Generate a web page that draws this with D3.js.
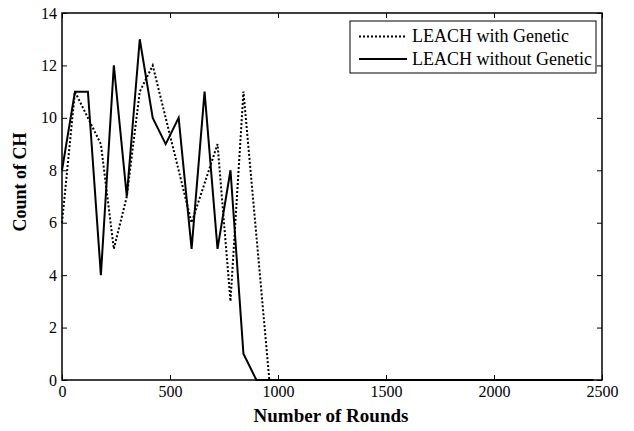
<!DOCTYPE html>
<html>
<head>
<meta charset="utf-8">
<script src="https://cdn.jsdelivr.net/npm/d3@7"></script>
<style>
  html, body { margin: 0; padding: 0; background: #fff; }
  svg { display: block; }
  text { font-family: "Liberation Serif", "Times New Roman", serif; fill: #000; }
</style>
</head>
<body>
<svg id="chart" width="634" height="431"></svg>
<script>
// ---- data ----
const rounds = [0, 60, 120, 180, 240, 300, 360, 420, 480, 540, 600, 660, 720, 780, 840, 900, 960, 2460];
const withGenetic = [6, 11, 10, 9, 5, 7, 11, 12, 10, 8, 6, 7.5, 9, 3, 11, 5.5, 0, 0];
const withoutGenetic = [8, 11, 11, 4, 12, 7, 13, 10, 9, 10, 5, 11, 5, 8, 1, 0, 0, 0];
const xTicks = [0, 500, 1000, 1500, 2000, 2500];
const yTicks = [0, 2, 4, 6, 8, 10, 12, 14];
const seriesNames = ["LEACH with Genetic", "LEACH without Genetic"];
const xTitle = "Number of Rounds";
const yTitle = "Count of CH";

// ---- layout ----
const L = 62, R = 602, T = 13, B = 380;
const svg = d3.select("#chart");
const x = d3.scaleLinear().domain([0, 2500]).range([L, R]);
const y = d3.scaleLinear().domain([0, 14]).range([B, T]);
const fmt = d3.format("d");

function styleAxis(g) {
  g.attr("font-family", null).attr("font-size", null);
  g.select(".domain").remove();
  g.selectAll(".tick line").attr("stroke", "#000").attr("stroke-width", 1);
  g.selectAll(".tick text")
    .style("font-family", '"Liberation Serif", "Times New Roman", serif')
    .style("font-size", "16px").attr("fill", "#000");
}

svg.append("g").attr("transform", `translate(0,${B})`)
  .call(d3.axisBottom(x).tickValues(xTicks).tickFormat(fmt).tickSizeInner(-5).tickSizeOuter(0).tickPadding(6))
  .call(styleAxis);
svg.append("g").attr("transform", `translate(${L},0)`)
  .call(d3.axisLeft(y).tickValues(yTicks).tickFormat(fmt).tickSizeInner(-5).tickSizeOuter(0).tickPadding(5))
  .call(styleAxis);
svg.append("g").attr("transform", `translate(0,${T})`)
  .call(d3.axisTop(x).tickValues(xTicks).tickSizeInner(-5).tickSizeOuter(0).tickFormat(""))
  .call(styleAxis);
svg.append("g").attr("transform", `translate(${R},0)`)
  .call(d3.axisRight(y).tickValues(yTicks).tickSizeInner(-5).tickSizeOuter(0).tickFormat(""))
  .call(styleAxis);

// lines
const line = d3.line().x((d, i) => x(rounds[i])).y(d => y(d));
svg.append("path").datum(withoutGenetic)
  .attr("d", line).attr("fill", "none").attr("stroke", "#000")
  .attr("stroke-width", 2).attr("stroke-linejoin", "miter");
svg.append("path").datum(withGenetic)
  .attr("d", line).attr("fill", "none").attr("stroke", "#000")
  .attr("stroke-width", 2).attr("stroke-dasharray", "2,2");

// box
svg.append("rect").attr("x", L).attr("y", T).attr("width", R - L).attr("height", B - T)
  .attr("fill", "none").attr("stroke", "#000").attr("stroke-width", 1.5);

// legend
const lg = svg.append("g");
lg.append("rect").attr("x", 350).attr("y", 21).attr("width", 246).attr("height", 52)
  .attr("fill", "#fff").attr("stroke", "#000").attr("stroke-width", 1);
const legendRows = [
  { name: seriesNames[0], dash: "2,2", ly: 36.5, ty: 42 },
  { name: seriesNames[1], dash: null, ly: 59, ty: 65 }
];
legendRows.forEach(r => {
  const l = lg.append("line").attr("x1", 359).attr("x2", 407).attr("y1", r.ly).attr("y2", r.ly)
    .attr("stroke", "#000").attr("stroke-width", 2);
  if (r.dash) l.attr("stroke-dasharray", r.dash);
  lg.append("text").attr("x", 412).attr("y", r.ty).style("font-size", "18px").text(r.name);
});

// axis titles
svg.append("text").attr("x", 331).attr("y", 422).attr("text-anchor", "middle")
  .style("font-size", "19px").style("font-weight", "bold").text(xTitle);
svg.append("text").attr("transform", `translate(26,182) rotate(-90)`).attr("text-anchor", "middle")
  .style("font-size", "18px").style("font-weight", "bold").text(yTitle);
</script>
</body>
</html>
